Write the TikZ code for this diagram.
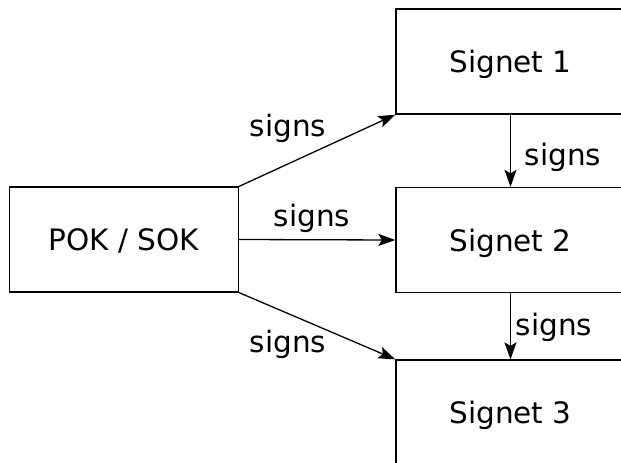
\documentclass[tikz,border=0pt]{standalone}
\usepackage{fontspec}
\setmainfont{DejaVu Sans}
\usetikzlibrary{arrows.meta}
\begin{document}
\begin{tikzpicture}[x=1pt,y=-1pt,
  box/.style={draw=black,line width=1.3pt,inner sep=0pt,minimum width=229pt,minimum height=105pt,text depth=0pt,font=\fontsize{29.5}{32}\selectfont},
  lbl/.style={anchor=base,inner sep=0pt,font=\fontsize{29.5}{32}\selectfont},
  conn/.style={draw=black,line width=1.3pt,-{Stealth[length=17pt,width=12pt,inset=3.5pt]}}]
\useasboundingbox (0,0) rectangle (621,463);
\clip (0,0) rectangle (621,463);
\node[box] (pok) at (124,239.5) {POK / SOK};
\node[box] (s1) at (510.5,61.5) {Signet 1};
\node[box] (s2) at (510.5,240) {Signet 2};
\node[box] (s3) at (510.5,412.5) {Signet 3};
\draw[conn] (pok.north east) -- (s1.south west);
\draw[conn] (pok.east) -- (s2.west);
\draw[conn] (pok.south east) -- (s3.north west);
\draw[conn] (s1.south) -- (s2.north);
\draw[conn] (s2.south) -- (s3.north);
\node[lbl] (l1) at (288,136) {signs};
\node[lbl] (l2) at (312,226.5) {signs};
\node[lbl] (l3) at (288,352) {signs};
\node[lbl] (l4) at (563,165) {signs};
\node[lbl] (l5) at (554,335) {signs};
\end{tikzpicture}
\end{document}
